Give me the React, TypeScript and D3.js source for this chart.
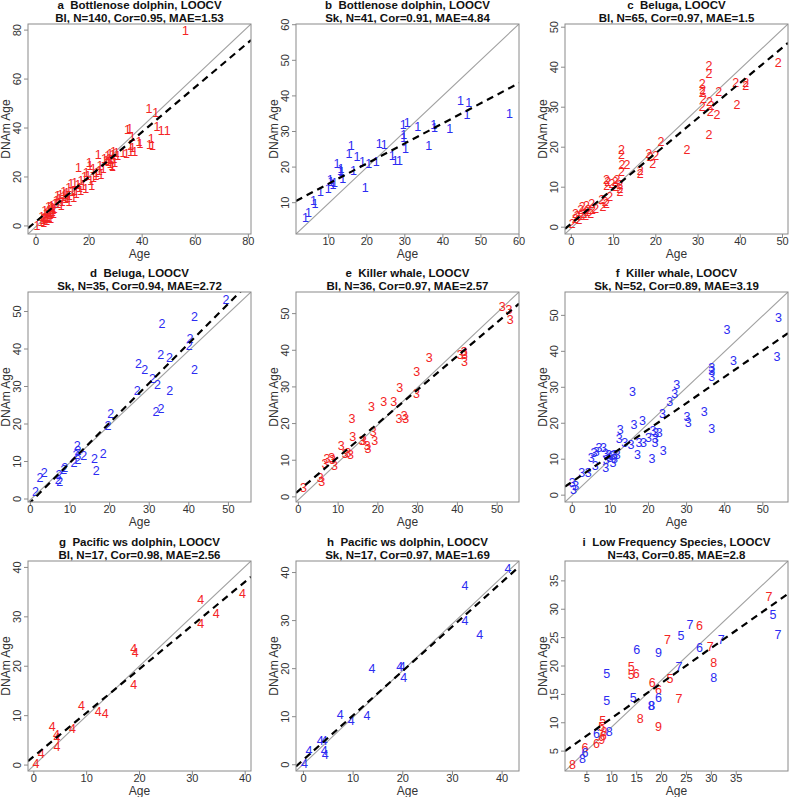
import React from 'react';
import * as d3 from 'd3';

type Pt = [number, number];
type LPt = [number, number, string];

// panel titles (two lines each)
const titles: string[][] = [
  ['a  Bottlenose dolphin, LOOCV', 'Bl, N=140, Cor=0.95, MAE=1.53'],
  ['b  Bottlenose dolphin, LOOCV', 'Sk, N=41, Cor=0.91, MAE=4.84'],
  ['c  Beluga, LOOCV', 'Bl, N=65, Cor=0.97, MAE=1.5'],
  ['d  Beluga, LOOCV', 'Sk, N=35, Cor=0.94, MAE=2.72'],
  ['e  Killer whale, LOOCV', 'Bl, N=36, Cor=0.97, MAE=2.57'],
  ['f  Killer whale, LOOCV', 'Sk, N=52, Cor=0.89, MAE=3.19'],
  ['g  Pacific ws dolphin, LOOCV', 'Bl, N=17, Cor=0.98, MAE=2.56'],
  ['h  Pacific ws dolphin, LOOCV', 'Sk, N=17, Cor=0.97, MAE=1.69'],
  ['i  Low Frequency Species, LOOCV', 'N=43, Cor=0.85, MAE=2.8'],
];

const xDomains: Pt[] = [
  [-3, 81], [1.4, 60], [-1.5, 51.3], [-0.6, 55.7], [-0.6, 55.5],
  [-1.9, 56.6], [-1.1, 41.1], [-1.5, 43.4], [0.6, 45.4],
];
const yDomains: Pt[] = [
  [-3.3, 82.5], [1.2, 60.2], [-1.7, 50.8], [-0.8, 55.2], [-1.4, 55.9],
  [-1.9, 56.5], [-1.2, 41.3], [-1.3, 42.4], [1.5, 38.5],
];

const ticks0to80 = [0, 20, 40, 60, 80];
const ticks10to60 = [10, 20, 30, 40, 50, 60];
const ticks0to50 = [0, 10, 20, 30, 40, 50];
const ticks0to40 = [0, 10, 20, 30, 40];
const ticks5to35 = [5, 10, 15, 20, 25, 30, 35];
const panelTicks = [
  ticks0to80, ticks10to60, ticks0to50, ticks0to50, ticks0to50,
  ticks0to50, ticks0to40, ticks0to40, ticks5to35,
];

// dashed regression line: intercept, slope
const fitIntercepts = [1.8, 9.7, 0.92, -0.9, 1.65, 3.74, 1.77, 1.04, 4.65];
const fitSlopes = [0.915, 0.565, 0.88, 1.06, 0.92, 0.73, 0.884, 0.925, 0.618];

// [age, DNAm age]
const pointsA: Pt[] = [
  [56.3, 79.7], [42.6, 47.7], [45.1, 46], [45.6, 40.6], [47.2, 38.8], [49.4, 38.8], [34.5, 39.2],
  [35.3, 39.4], [36.3, 36.5], [38.8, 34.1], [39.2, 33.6], [43.4, 35.7], [42.8, 33], [43.9, 32.6],
  [35.6, 32.7], [32.8, 29.6], [34.1, 29.3], [35.7, 30], [37.2, 30.2], [36.4, 31.8],
  [27, 28.6], [27.6, 27.5], [28.3, 26.9], [28.9, 28.9], [29.4, 27.2], [27.2, 26], [28, 25.3],
  [28.6, 24.5], [29.7, 25.6], [30.3, 29.8], [30.8, 28.7], [29.2, 30], [26.5, 26.5], [27.9, 29.5],
  [28.8, 23.9], [25.8, 27.3],
  [23.5, 28.9], [20.1, 25.9], [20.3, 24.5], [16, 23.8], [18.9, 21.8], [21.6, 23.2], [22.8, 21.8],
  [24.1, 24.5], [25.3, 23.2], [20.6, 18.4], [21, 16.3], [22.6, 20.4], [19.6, 20.3], [23.8, 22.5],
  [21.7, 19.5], [18.3, 19.8], [24.5, 20.8],
  [14.6, 17.7], [15.8, 16.8], [17, 18.3], [13.2, 17], [16.4, 15.5], [14.5, 14.2], [15.2, 12.9],
  [12.3, 15.6], [13.7, 13.8], [16.9, 14.4], [11.6, 13.6], [12.5, 12.1], [14.2, 11.3], [17.8, 16.5],
  [18.7, 15],
  [9.2, 12.8], [10.4, 11.9], [11.2, 10.8], [8.8, 10.9], [9.9, 9.8], [7.6, 10.2], [8.3, 9],
  [10.9, 12.8], [11.9, 11.5], [9.5, 8.3], [7.2, 8.8], [12.4, 9.6], [6.9, 7.1], [10.5, 13.8],
  [8.1, 12.1],
  [5.9, 8.2], [6.3, 7.2], [5.1, 6.7], [4.5, 5.6], [6.1, 5.8], [3.8, 4.7], [5.3, 4.3], [4.2, 3.6],
  [3.1, 3.4], [2.6, 2.4], [5.6, 2.8], [4.7, 7.7], [3.3, 5.9], [6.6, 4.9], [1.9, 1.5], [2.9, 1.1],
  [0.4, 0], [4.1, 2.1], [5.4, 5.4], [6.4, 6.6], [3.6, 2.9], [2.2, 3.8], [4.9, 3.2], [5.7, 7.9],
];
const pointsB: Pt[] = [
  [3.9, 5.6], [4.7, 7.1], [6.0, 10.5], [6.4, 9.7], [7.8, 13.1], [9.9, 13.8], [10.4, 16.4],
  [10.6, 15.7], [11.1, 15], [11.5, 15.4], [12.2, 20.8], [13.1, 18.8], [13.2, 19.4], [13.4, 18.5],
  [13.7, 16.6], [15.3, 23.7], [15.9, 26], [16.5, 18.8], [17.4, 22.7], [18.9, 21.5], [20.5, 21],
  [22.5, 21.5], [19.6, 14], [23.3, 26.5], [24.6, 26.3], [26.7, 23.2], [27.5, 21.8], [28.6, 21.8],
  [29.6, 31.7], [30.6, 32.4], [29.7, 28.9], [29.7, 28.2], [30.2, 25.1], [33.4, 31.4], [36.3, 25.8],
  [37.6, 31.7], [37.8, 31], [41.8, 30.8], [44.6, 38.6], [46.8, 38.1], [46.3, 34.5], [57.5, 35],
];
const pointsC: Pt[] = [
  [32.6, 40.4], [32.6, 38.4], [49, 41], [31, 35.8], [31.1, 34.2], [31, 33.5], [34.9, 33.7],
  [38.9, 36], [41.3, 36], [41.3, 35.3], [31.3, 32], [32.7, 31.4], [31, 30], [33.1, 30.2],
  [39.2, 30.6], [32.9, 28.9], [34.5, 28.1], [32.6, 23], [27.4, 19.4], [21.2, 21.4], [18.3, 18.4],
  [20, 17.8], [19.3, 15.9], [18.6, 17.6], [16.3, 14.1], [16.3, 13.2], [11.9, 19.4], [11.9, 18],
  [12, 15.5], [13.2, 15.5], [11.9, 13.7], [8.3, 11.9], [9.6, 10.9], [10.4, 11.3], [8.4, 10.2],
  [11.5, 10.5], [11.5, 9.6], [11.5, 8.8], [10.5, 10], [9.1, 7.5], [8, 6.3], [8.3, 5.7], [7.2, 6.7],
  [4.8, 5.7], [5.8, 4.6], [3.6, 5.4], [4, 4.4], [2.6, 5], [2.2, 4.2], [3, 3.4], [1, 3.4],
  [0.9, 2.1], [1.8, 1.7], [0.2, 0.7], [4.6, 3.4], [1.4, 2.7], [3.4, 2.9], [7.5, 5], [5, 4.2],
  [2.2, 2.9], [3.8, 3.8], [8.6, 11.3], [10.8, 11.7],
];
const pointsD: Pt[] = [
  [49.4, 53.2], [41.4, 48.5], [33.2, 46.7], [40.3, 42.8], [40.1, 40.7], [32.9, 38.3], [35.1, 37.6],
  [27.3, 36], [28.9, 34.5], [41.4, 34.3], [30.8, 32.1], [32.1, 30.3], [27, 28.7], [35.2, 28.7],
  [31.7, 23.2], [33, 24.1], [20.3, 22.7], [19.6, 19.4], [11.8, 14.1], [12, 12.9], [11.5, 11.7],
  [13.5, 11.6], [16.2, 10.7], [18.4, 12.1], [16.6, 7.4], [11, 9.6], [8.7, 8.3], [8.4, 7.8],
  [7.2, 6.5], [7, 5.2], [7.4, 4.5], [3.5, 6.9], [2.4, 5.6], [1.3, 1.9], [12, 10.3],
];
const pointsE: Pt[] = [
  [51.3, 51.8], [53, 51.1], [53.3, 48.2], [40.7, 38.6], [41.7, 39.5], [41.8, 38.6], [41.8, 36.7],
  [32.9, 37.8], [29.8, 34], [29.7, 28.1], [25.5, 29.6], [24, 25.8], [21.5, 26], [18.4, 24.4],
  [13.5, 21.2], [25.3, 21.2], [26.6, 22.1], [27, 21.2], [13.7, 16.2], [16, 15.3], [16.4, 15.3],
  [18.8, 17.6], [19.2, 15.3], [17.3, 13.9], [17.5, 13], [10.8, 13.9], [12.5, 12.1], [13.1, 11.4],
  [11.8, 11.6], [7.2, 10.2], [8.4, 10.7], [8.6, 10], [9.1, 8.4], [6.7, 9], [5.5, 5.2], [5.9, 4.1],
  [1.3, 2.3],
];
const pointsF: Pt[] = [
  [54.1, 49.2], [53.7, 38.3], [40.6, 45.9], [42.3, 37.4], [36.6, 35.5], [36.6, 34.4], [36.6, 33],
  [36.6, 18.4], [34.6, 23.1], [30.1, 21.7], [30.4, 20.1], [27.4, 30.6], [26.9, 28.2], [25.6, 25.9],
  [23.7, 22.6], [23.9, 12.2], [15.8, 28.7], [16.2, 19.5], [18.4, 20.7], [12.6, 18.2], [12.3, 15.5],
  [13.8, 14.6], [15.4, 13.9], [17.1, 11.3], [17.5, 14.4], [18.7, 14.6], [20, 16], [20.9, 10.1],
  [21.2, 17.9], [21.9, 17.4], [21.8, 15.5], [21.7, 14.4], [22.8, 17.2], [7, 13.2], [8.2, 13],
  [6.3, 12], [5.7, 11.6], [8.8, 11.5], [5, 10.4], [6, 8.2], [8.9, 9.9], [8.8, 7.5], [9.6, 11.3],
  [10.4, 11], [11, 11.3], [10.7, 8.9], [11.8, 11.3], [9.9, 10.4], [2.5, 6.1], [4.2, 6.3], [0, 3.3],
  [0.9, 2.5], [0.3, 1.4], [11.1, 10.1],
];
const pointsG: Pt[] = [
  [39.5, 34.7], [31.6, 33.5], [31.6, 28.6], [34.5, 30.6], [18.9, 23.5], [19.2, 22.6], [18.9, 16.3],
  [9, 12], [12.2, 10.7], [13.5, 10.4], [7.3, 7.3], [3.5, 7.7], [4.3, 6], [4.4, 5.4], [4.4, 3.7],
  [1.4, 2.2], [0.4, 0.3],
];
const pointsH: Pt[] = [
  [41.2, 40.8], [32.5, 37.3], [32.5, 29.9], [35.5, 26.9], [13.8, 19.9], [19.4, 20.4], [19.9, 20.4],
  [20.2, 18], [7.4, 10.3], [12.8, 10.1], [9.6, 9.1], [3.4, 4.9], [4.2, 4.9], [1.1, 2.8], [4.2, 2.9],
  [4.4, 2], [0.2, 0.2],
];
// panel i: [age, DNAm age, species code]
const pointsIBl: LPt[] = [
  [41.6, 32.2, '7'], [27.6, 27.1, '6'], [21.2, 24.5, '7'], [29.8, 23.4, '7'], [30.5, 20.5, '8'],
  [13.9, 19.9, '5'], [13.9, 18.4, '5'], [14.9, 18.6, '6'], [21.7, 17.7, '5'], [18.1, 17, '6'],
  [19.4, 15.8, '6'], [23.5, 14.1, '7'], [15.7, 10.7, '8'], [19.4, 9.3, '9'], [8.2, 10.3, '5'],
  [8, 9.25, '5'], [8.5, 8.4, '8'], [8.3, 7.7, '6'], [8, 6.9, '9'], [6.9, 6.2, '6'],
  [4.6, 5.6, '6'], [2.1, 2.6, '8'],
];
const pointsISk: LPt[] = [
  [25.7, 27.3, '7'], [42.4, 29, '5'], [43.4, 25.4, '7'], [32, 24.6, '7'], [27.6, 23.1, '6'],
  [19.4, 22.3, '9'], [15, 22.8, '6'], [23.5, 19.8, '7'], [23.9, 25.2, '5'], [9, 18.6, '5'],
  [30.5, 17.9, '8'], [14.3, 14.3, '5'], [19.4, 14.3, '6'], [17.9, 12.9, '8'], [18, 12.9, '8'],
  [9, 13.9, '5'], [6.9, 8.1, '6'], [9.5, 8.4, '8'], [4.6, 4.7, '6'], [4.1, 3.6, '8'],
];

const RED = '#f42424';
const BLUE = '#2c2cf2';

const withLabel = (pts: Pt[], lab: string): LPt[] => pts.map((p) => [p[0], p[1], lab]);

const panelPoints: { pts: LPt[]; color: string }[][] = [
  [{ pts: withLabel(pointsA, '1'), color: RED }],
  [{ pts: withLabel(pointsB, '1'), color: BLUE }],
  [{ pts: withLabel(pointsC, '2'), color: RED }],
  [{ pts: withLabel(pointsD, '2'), color: BLUE }],
  [{ pts: withLabel(pointsE, '3'), color: RED }],
  [{ pts: withLabel(pointsF, '3'), color: BLUE }],
  [{ pts: withLabel(pointsG, '4'), color: RED }],
  [{ pts: withLabel(pointsH, '4'), color: BLUE }],
  [{ pts: pointsIBl, color: RED }, { pts: pointsISk, color: BLUE }],
];

const colX = [0, 268, 537];
const rowY = [0, 268, 537];
const BOX = { left: 28, top: 24, width: 223, height: 210 };
const FONT = 'Liberation Sans, Arial, Helvetica, sans-serif';

function Panel({ idx }: { idx: number }) {
  const ox = colX[idx % 3];
  const oy = rowY[Math.floor(idx / 3)];
  const left = ox + BOX.left;
  const top = oy + BOX.top;
  const right = left + BOX.width;
  const bottom = top + BOX.height;

  const x = d3.scaleLinear().domain(xDomains[idx]).range([left, right]);
  const y = d3.scaleLinear().domain(yDomains[idx]).range([bottom, top]);
  const [x0, x1] = xDomains[idx];
  const [y0, y1] = yDomains[idx];

  const line = d3
    .line<Pt>()
    .x((d) => x(d[0]))
    .y((d) => y(d[1]));
  const fit: Pt[] = [
    [x0, fitIntercepts[idx] + fitSlopes[idx] * x0],
    [x1, fitIntercepts[idx] + fitSlopes[idx] * x1],
  ];
  const diag: Pt[] = [
    [x0, y0],
    [x1, y1],
  ];
  const clipId = 'clip' + idx;
  const tks = panelTicks[idx];

  return (
    <g fontFamily={FONT}>
      <defs>
        <clipPath id={clipId}>
          <rect x={left} y={top} width={BOX.width} height={BOX.height} />
        </clipPath>
      </defs>
      <text
        x={(left + right) / 2}
        y={oy + 9}
        textAnchor="middle"
        fontSize={11.5}
        fontWeight="bold"
        fill="#111"
        style={{ whiteSpace: 'pre' }}
      >
        {titles[idx][0]}
      </text>
      <text x={(left + right) / 2} y={oy + 21.5} textAnchor="middle" fontSize={11.5} fontWeight="bold" fill="#111">
        {titles[idx][1]}
      </text>

      <g clipPath={`url(#${clipId})`}>
        <path d={line(diag) || ''} stroke="#a0a0a0" strokeWidth={1.1} fill="none" />
        {panelPoints[idx].map((s, si) =>
          s.pts.map((p, i) => (
            <text
              key={si + '-' + i}
              x={x(p[0])}
              y={y(p[1])}
              textAnchor="middle"
              dominantBaseline="central"
              fontSize={12.5}
              fill={s.color}
            >
              {p[2]}
            </text>
          ))
        )}
        <path d={line(fit) || ''} stroke="#000" strokeWidth={2.2} strokeDasharray="7 5" fill="none" />
      </g>
      <rect x={left} y={top} width={BOX.width} height={BOX.height} fill="none" stroke="#8a8a8a" strokeWidth={1} />

      {tks.map((t) => (
        <g key={'x' + t}>
          <line x1={x(t)} x2={x(t)} y1={bottom} y2={bottom + 4} stroke="#8a8a8a" />
          <text x={x(t)} y={bottom + 11} textAnchor="middle" fontSize={11} fill="#333">
            {t}
          </text>
        </g>
      ))}
      {tks.map((t) => (
        <g key={'y' + t}>
          <line x1={left - 4} x2={left} y1={y(t)} y2={y(t)} stroke="#8a8a8a" />
          <text
            transform={`translate(${left - 7},${y(t)}) rotate(-90)`}
            textAnchor="middle"
            fontSize={11}
            fill="#333"
          >
            {t}
          </text>
        </g>
      ))}
      <text x={(left + right) / 2} y={oy + 258} textAnchor="middle" fontSize={12} fill="#333">
        Age
      </text>
      <text
        transform={`translate(${ox + 9.5},${(top + bottom) / 2}) rotate(-90)`}
        textAnchor="middle"
        fontSize={12}
        fill="#333"
      >
        DNAm Age
      </text>
    </g>
  );
}

export default function App() {
  return (
    <svg
      width={789}
      height={797}
      viewBox="0 0 789 797"
      style={{ position: 'absolute', left: 0, top: 0, background: '#fff' }}
    >
      <rect width={789} height={797} fill="#fff" />
      {titles.map((_, i) => (
        <Panel key={i} idx={i} />
      ))}
    </svg>
  );
}
